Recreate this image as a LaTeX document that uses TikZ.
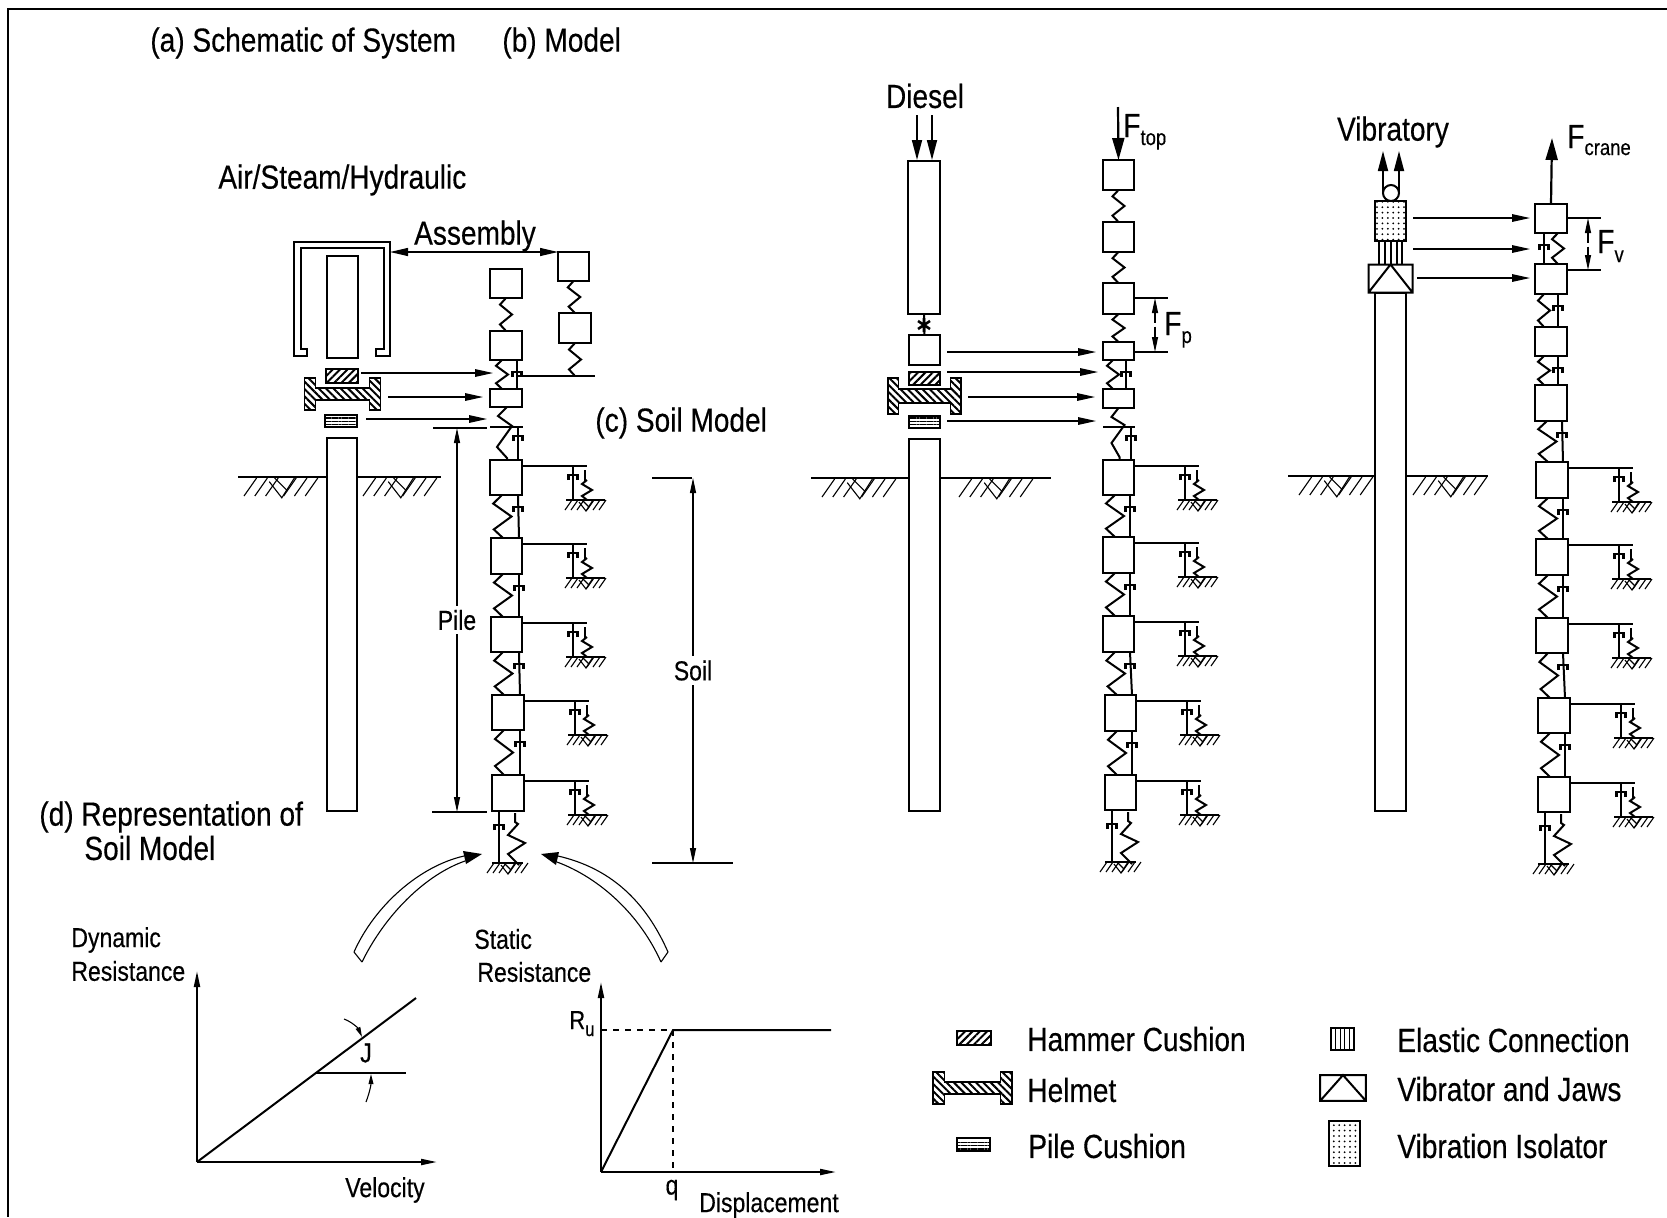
\documentclass[tikz,border=0pt]{standalone}
\usepackage{fontspec}
\setmainfont[FakeStretch=0.84,FakeBold=0.35]{Liberation Sans}
\usetikzlibrary{arrows.meta,calc,patterns.meta}

\newcommand{\pbox}[6][massbox]{\node[#1, minimum width={(#5-#3)*0.5pt},
    minimum height={(#6-#4)*0.5pt}] (#2) at ({(#3+#5)/2},{(#4+#6)/2}) {};}
\newcommand{\masslink}[5]{%
  \draw[lnk, springzig=#5] ($(#1.south west)+(#3,0)$) to ($(#2.north west)+(#3,0)$);
  \draw[lnk] ($(#1.south west)+(#4,0)$) -- ($(#2.north west)+(#4,0)$);
  \pic at ($(#1.south west)+(#4,12)$) {dashcup};}
\newcommand{\soilunit}[1]{%
  \draw[lnk] ($(#1.north east)+(0,6)$) -- ++(65,0);
  \draw[lnk] ($(#1.north east)+(51,6)$) -- ++(0,34);
  \pic at ($(#1.north east)+(51,15)$) {dashcup};
  \draw[lnk] ($(#1.north east)+(63,10)$) -- ++(0,11);
  \draw[lnk, springzig=5] ($(#1.north east)+(65,20)$) to ($(#1.north east)+(65,40)$);
  \draw[lnk] ($(#1.north east)+(44,40)$) -- ++(39,0);
  \pic at ($(#1.north east)+(63,40)$) {gndhatch};}
\newcommand{\basesoil}[1]{%
  \draw[lnk] ($(#1.south west)+(7,0)$) -- ++(0,52);
  \pic at ($(#1.south west)+(7,14)$) {dashcup};
  \draw[lnk] ($(#1.south west)+(23,2)$) -- ++(0,9) -- ++(3,2) -- ++(-10,11) -- ++(17,8)
    -- ++(-17,11) -- ++(11,11);
  \draw[lnk] ($(#1.south west)+(0,52)$) -- ++(31,0);
  \pic at ($(#1.south west)+(15,52)$) {gndhatch};}

\begin{document}
\begin{tikzpicture}[
    x=0.5pt, y=-0.5pt,
    lnk/.style={line width=1pt, line join=miter},
    massbox/.style={rectangle, draw, line width=1.05pt, fill=white,
      inner sep=0pt, outer sep=0pt},
    partbox/.style={massbox, line width=0.9pt},
    hcush/.style={partbox, pattern={Lines[angle=45,distance=2.6pt,line width=1pt]}},
    pcush/.style={partbox, pattern={Lines[angle=0,distance=1.7pt,line width=0.6pt]}},
    helmfill/.style={line width=0.9pt, pattern={Lines[angle=-45,distance=2.6pt,line width=1pt]}},
    dotfill/.style={partbox, pattern={Dots[distance=2.7pt,radius=0.5pt]}},
    springzig/.style={to path={-- ($(\tikztostart)!.2!(\tikztotarget)+(-#1,0)$)
      -- ($(\tikztostart)!.5!(\tikztotarget)+(#1,0)$)
      -- ($(\tikztostart)!.8!(\tikztotarget)+(-#1,0)$) -- (\tikztotarget)}},
    ptr/.style={-{Triangle[length=9pt,width=3.8pt]}, line width=0.6pt},
    bigptr/.style={-{Triangle[length=11pt,width=6pt]}, line width=1.1pt},
    topptr/.style={-{Triangle[length=10pt,width=5pt]}, line width=0.85pt},
    axis/.style={-{Triangle[length=8pt,width=3pt]}, line width=1pt},
    dimline/.style={{Triangle[length=7.5pt,width=3pt]}-{Triangle[length=7.5pt,width=3pt]}, line width=0.55pt},
    thinl/.style={line width=0.55pt},
    biglab/.style={font=\fontsize{16.7}{20}\selectfont, inner sep=0pt, anchor=west},
    smalab/.style={font=\fontsize{13.7}{16}\selectfont, inner sep=0pt},
    flab/.style={font=\fontsize{16.7}{20}\selectfont, inner sep=0pt, anchor=base west},
    gndhatch/.pic={
      \foreach \dx in {-13,-7,9,15,21} \draw[thinl] (\dx,0) -- ++(-7,10);
      \draw[thinl] (-1,0) -- ++(-7,10);
      \draw[thinl] (-6,2) -- (1,11) -- (8,0);
      \draw[thinl] (-3,0) -- (4,7);},
    dashcup/.pic={\draw[line width=1.25pt] (-4.5,5) -- (-4.5,0) -- (4.5,0) -- (4.5,5);},
    helmet/.pic={\draw[helmfill] (-38,-16) -- (-27,-16) -- (-27,-6) -- (27,-6) -- (27,-16)
      -- (38,-16) -- (38,16) -- (27,16) -- (27,6) -- (-27,6) -- (-27,16) -- (-38,16) -- cycle;},
    vibrator/.pic={\draw[line width=1pt] (-22,-14) rectangle (22,14) (-22,14) -- (0,-14) -- (22,14);}
  ]
  \useasboundingbox (0,0) rectangle (1667,1217);
  % frame
  \draw[line width=0.9pt] (1667,9) -- (8,9) -- (8,1217);

  % titles
  \node[biglab] (ta) at (150,43) {(a) Schematic of System};
  \node[biglab] (tb) at (502,43) {(b) Model};
  \node[biglab] (tair) at (218,180) {Air/Steam/Hydraulic};
  \node[biglab, anchor=center] (tasm) at (475,236) {Assembly};
  \node[biglab] (tc) at (595,423) {(c) Soil Model};
  \node[biglab] (td) at (39,817) {(d) Representation of};
  \node[biglab] (td2) at (84,848) {Soil Model};
  \node[biglab, anchor=center] (tdiesel) at (925,96) {Diesel};
  \node[biglab, anchor=center] (tvib) at (1393,132) {Vibratory};

  % air/steam/hydraulic hammer
  \draw[partbox] (294,356) -- (294,242) -- (390,242) -- (390,356) -- (376,356) -- (376,349)
    -- (384,349) -- (384,248) -- (301,248) -- (301,349) -- (307,349) -- (307,356) -- cycle;
  \pbox[partbox]{ramA}{327}{256}{358}{358}
  \pbox[hcush]{hcA}{326}{369}{358}{383}
  \pic at (342.5,394) {helmet};
  \pbox[pcush]{pcA}{325}{415}{357}{427}
  \pbox[partbox]{pileA}{327}{438}{357}{811}
  \draw[lnk] (238,477) -- (pileA.west |- 0,477);
  \draw[lnk] (pileA.east |- 0,477) -- (441,477);
  \pic[scale=1.8] at (280,478) {gndhatch};
  \pic[scale=1.8] at (399,478) {gndhatch};

  % air/steam/hydraulic model
  \foreach \n/\xa/\ya/\xb/\yb in {a1/490/269/522/298, a2/490/331/522/360, a3/490/389/522/407,
      a4/490/460/522/495, a5/491/538/522/574, a6/491/617/522/652, a7/492/695/524/730,
      a8/492/775/524/811, s1/558/252/589/281, s2/559/313/591/343}
    {\pbox{\n}{\xa}{\ya}{\xb}{\yb}}
  \draw[lnk, springzig=6] (a1.south) to (a2.north);
  \draw[lnk, springzig=6] (s1.south) to (s2.north);
  \draw[lnk, springzig=6] (s2.south) to (s2.south |- 0,376);
  \masslink{a2}{a3}{12}{27}{6}
  \draw[lnk] (517,376) -- (595,376);
  \draw[lnk] (a3.south) ++(1,0) -- ++(-9,9) -- ++(14,10) -- ++(-15,21) -- ++(10,11) -- ++(0,2);
  \draw[lnk] (490,427) -- (523,427);
  \draw[lnk] (518,427) -- (518,460);
  \pic at (518,436) {dashcup};
  \foreach \u/\l in {a4/a5, a5/a6, a6/a7, a7/a8} {\masslink{\u}{\l}{12}{28}{9}}
  \foreach \m in {a4, a5, a6, a7, a8} {\soilunit{\m}}
  \basesoil{a8}

  \coordinate (hamA) at (390,252);
  \draw[{Triangle[length=9pt,width=4pt]}-{Triangle[length=9pt,width=4pt]}, line width=0.6pt] (hamA) -- (s1.north west);
  \coordinate (pa1) at (361,373); \coordinate (qa1) at (493,373);
  \coordinate (pa2) at (388,397); \coordinate (qa2) at (483,397);
  \coordinate (pa3) at (366,419); \coordinate (qa3) at (487,419);
  \draw[ptr] (pa1) -- (qa1);
  \draw[ptr] (pa2) -- (qa2);
  \draw[ptr] (pa3) -- (qa3);
  % pile and soil dimensions
  \draw[thinl] (433,428) -- (487,428);
  \draw[thinl] (432,812) -- (487,812);
  \draw[dimline] (457,428) -- (457,812) node[pos=.5, smalab, fill=white, inner ysep=2pt] (lpile) {Pile};
  \draw[thinl] (652,478) -- (692,478);
  \draw[thinl] (652,863) -- (733,863);
  \draw[dimline] (693,478) -- (693,863) node[pos=.5, smalab, fill=white, inner ysep=2pt] (lsoil) {Soil};

  % diesel hammer
  \pbox[partbox]{ramB}{908}{161}{940}{314}
  \pbox[partbox]{anvB}{909}{335}{940}{365}
  \draw[topptr] (917,115) -- (917,160);
  \draw[topptr] (932,115) -- (932,160);
  \draw[lnk] (ramB.south) -- (anvB.north);
  \draw[line width=1.3pt] (924,318) -- (924,332) (918,321) -- (930,329) (918,329) -- (930,321);
  \pbox[hcush]{hcB}{909}{372}{940}{385}
  \pic[xscale=0.96, yscale=1.12] at (924.5,396) {helmet};
  \pbox[pcush]{pcB}{909}{416}{940}{428}
  \pbox[partbox]{pileB}{909}{439}{940}{811}
  \draw[lnk] (811,478) -- (pileB.west |- 0,478);
  \draw[lnk] (pileB.east |- 0,478) -- (1051,478);
  \pic[scale=1.8] at (858,479) {gndhatch};
  \pic[scale=1.8] at (995,479) {gndhatch};

  % diesel model
  \foreach \n/\xa/\ya/\xb/\yb in {b1/1103/160/1134/190, b2/1103/222/1134/252, b3/1103/283/1134/314,
      b4/1103/342/1134/360, b5/1103/389/1134/408, b6/1103/460/1134/495, b7/1103/537/1134/573,
      b8/1103/616/1134/652, b9/1105/695/1136/731, b10/1105/775/1136/810}
    {\pbox{\n}{\xa}{\ya}{\xb}{\yb}}
  \draw[lnk, springzig=6] (b1.south) to (b2.north);
  \draw[lnk, springzig=6] (b2.south) to (b3.north);
  \draw[lnk, springzig=6] (b3.south) to (b4.north);
  \masslink{b4}{b5}{10}{23}{6}
  \draw[lnk] (b5.south) -- ++(-7,9) -- ++(13,8) -- ++(-13,18) -- ++(8,14) -- ++(0,3);
  \draw[lnk] (1103,427) -- (1135,427);
  \draw[lnk] (1131,427) -- (1131,460);
  \pic at (1131,436) {dashcup};
  \foreach \u/\l in {b6/b7, b7/b8, b8/b9, b9/b10} {\masslink{\u}{\l}{12}{27}{9}}
  \foreach \m in {b6, b7, b8, b9, b10} {\soilunit{\m}}
  \basesoil{b10}

  \coordinate (pb1) at (947,352); \coordinate (qb1) at (1096,352);
  \coordinate (pb2) at (947,372); \coordinate (qb2) at (1098,372);
  \coordinate (pb3) at (968,397); \coordinate (qb3) at (1095,397);
  \coordinate (pb4) at (947,421); \coordinate (qb4) at (1096,421);
  \draw[ptr] (pb1) -- (qb1);
  \draw[ptr] (pb2) -- (qb2);
  \draw[ptr] (pb3) -- (qb3);
  \draw[ptr] (pb4) -- (qb4);
  \coordinate (ftopS) at (1118,107);
  \draw[bigptr] (ftopS) -- (b1.north);
  \node[flab] (lftop) at (1123,137) {F\raisebox{-4pt}{\fontsize{11}{11}\selectfont top}};
  \draw[thinl] (1134,298) -- (1168,298);
  \draw[thinl] (1134,352) -- (1168,352);
  \draw[dimline, dash pattern=on 5pt off 2pt] (1155,298) -- (1155,352);
  \node[flab] (lfp) at (1164,335) {F\raisebox{-4pt}{\fontsize{11}{11}\selectfont p}};

  % vibratory hammer
  \pbox[partbox]{pileC}{1375}{293}{1406}{811}
  \pic at (1390.5,278.5) {vibrator};
  \foreach \x in {1379,1385,1391,1397,1402} \draw[lnk] (\x,241) -- (\x,264);
  \pbox[dotfill]{isoC}{1375}{201}{1406}{241}
  \draw[topptr] (1383,193) -- (1383,151);
  \draw[topptr] (1399,193) -- (1399,151);
  \node[circle, draw, line width=1pt, fill=white, minimum size=8pt, inner sep=0pt] (clampC) at (1391,193) {};
  \draw[lnk] (1288,476) -- (pileC.west |- 0,476);
  \draw[lnk] (pileC.east |- 0,476) -- (1488,476);
  \pic[scale=1.8] at (1335,477) {gndhatch};
  \pic[scale=1.8] at (1449,477) {gndhatch};

  % vibratory model
  \foreach \n/\xa/\ya/\xb/\yb in {c1/1535/204/1567/233, c2/1535/264/1567/294, c3/1535/327/1567/356,
      c4/1535/385/1567/421, c5/1536/462/1568/498, c6/1536/539/1568/575, c7/1536/618/1568/653,
      c8/1538/698/1570/733, c9/1538/777/1570/812}
    {\pbox{\n}{\xa}{\ya}{\xb}{\yb}}
  \masslink{c1}{c2}{23}{9}{6}
  \masslink{c2}{c3}{9}{23}{6}
  \masslink{c3}{c4}{9}{23}{6}
  \foreach \u/\l in {c4/c5, c5/c6, c6/c7, c7/c8, c8/c9} {\masslink{\u}{\l}{12}{27}{9}}
  \foreach \m in {c5, c6, c7, c8, c9} {\soilunit{\m}}
  \basesoil{c9}

  \coordinate (pc1) at (1413,218); \coordinate (qc1) at (1530,218);
  \coordinate (pc2) at (1413,249); \coordinate (qc2) at (1530,249);
  \coordinate (pc3) at (1417,278); \coordinate (qc3) at (1530,278);
  \draw[ptr] (pc1) -- (qc1);
  \draw[ptr] (pc2) -- (qc2);
  \draw[ptr] (pc3) -- (qc3);
  \coordinate (fcraneE) at (1552,138);
  \draw[bigptr] (c1.north) -- (fcraneE);
  \node[flab] (lfcr) at (1567,148) {F\raisebox{-3.5pt}{\fontsize{11}{11}\selectfont crane}};
  \draw[thinl] (1567,218) -- (1601,218);
  \draw[thinl] (1567,270) -- (1601,270);
  \draw[dimline, dash pattern=on 5pt off 2pt] (1588,218) -- (1588,270);
  \node[flab] (lfv) at (1597,253) {F\raisebox{-4.5pt}{\fontsize{11}{11}\selectfont v}};

  % curved arrows to the soil element
  \draw[thinl] (354,952) .. controls (375,905) and (420,866) .. (464,856);
  \draw[thinl] (362,962) .. controls (385,915) and (425,875) .. (465,861);
  \draw[thinl] (354,952) -- (362,962);
  \coordinate (tipL) at (482,854);
  \fill (tipL) -- (463,851) -- (466,864) -- cycle;
  \draw[thinl] (668,952) .. controls (645,900) and (610,868) .. (558,856);
  \draw[thinl] (661,962) .. controls (640,915) and (600,878) .. (557,862);
  \draw[thinl] (668,952) -- (661,962);
  \coordinate (tipR) at (541,854);
  \fill (tipR) -- (559,852) -- (556,865) -- cycle;

  % dynamic resistance graph
  \node[smalab, anchor=west] (ldyn) at (71,940) {Dynamic};
  \node[smalab, anchor=west] (lres) at (71,971) {Resistance};
  \coordinate (oD) at (197,1162);
  \draw[axis] (oD) -- (197,971);
  \draw[axis] (oD) -- (437,1162);
  \draw[lnk] (oD) -- (416,998);
  \draw[lnk] (316,1073) -- (406,1073);
  \draw[-{Triangle[length=5pt,width=2.4pt]}, thinl] (344,1019) .. controls (352,1022) and (358,1028) .. (362,1037);
  \draw[-{Triangle[length=5pt,width=2.4pt]}, thinl] (366,1102) .. controls (369,1094) and (371,1086) .. (371,1074);
  \node[smalab] (lj) at (366,1053) {J};
  \node[smalab] (lvel) at (385,1190) {Velocity};

  % static resistance graph
  \node[smalab, anchor=west] (lsta) at (474,939) {Static};
  \node[smalab, anchor=west] (lres2) at (477,972) {Resistance};
  \coordinate (oS) at (601,1172);
  \draw[axis] (oS) -- (601,982);
  \draw[axis] (oS) -- (836,1172);
  \draw[lnk] (oS) -- (673,1030) -- (831,1030);
  \draw[lnk, dashed] (601,1030) -- (673,1030);
  \draw[lnk, dashed] (673,1030) -- (673,1172);
  \node[font=\fontsize{13}{15}\selectfont, inner sep=0pt, anchor=base west] (lru) at (569,1029) {R\raisebox{-3.5pt}{\fontsize{10}{10}\selectfont u}};
  \node[smalab] (lq) at (672,1190) {q};
  \node[smalab] (ldisp) at (769,1205) {Displacement};

  % legend
  \pbox[hcush]{lhc}{957}{1031}{991}{1045}
  \node[biglab] (ltxa) at (1027,1039) {Hammer Cushion};
  \pic[xscale=1.04] at (972.5,1088) {helmet};
  \node[biglab] (ltxb) at (1027,1090) {Helmet};
  \pbox[pcush]{lpc}{957}{1138}{990}{1151}
  \node[biglab] (ltxc) at (1028,1146) {Pile Cushion};
  \pbox[partbox]{lel}{1331}{1028}{1354}{1050}
  \foreach \x in {1335.6,1340.2,1344.8,1349.4} \draw[thinl] (\x,1028) -- (\x,1050);
  \node[biglab] (ltxd) at (1397,1040) {Elastic Connection};
  \pic[xscale=1.04, yscale=0.92] at (1343,1088) {vibrator};
  \node[biglab] (ltxe) at (1397,1089) {Vibrator and Jaws};
  \pbox[dotfill]{liso}{1329}{1121}{1360}{1166}
  \node[biglab] (ltxf) at (1397,1146) {Vibration Isolator};
\end{tikzpicture}
\end{document}
